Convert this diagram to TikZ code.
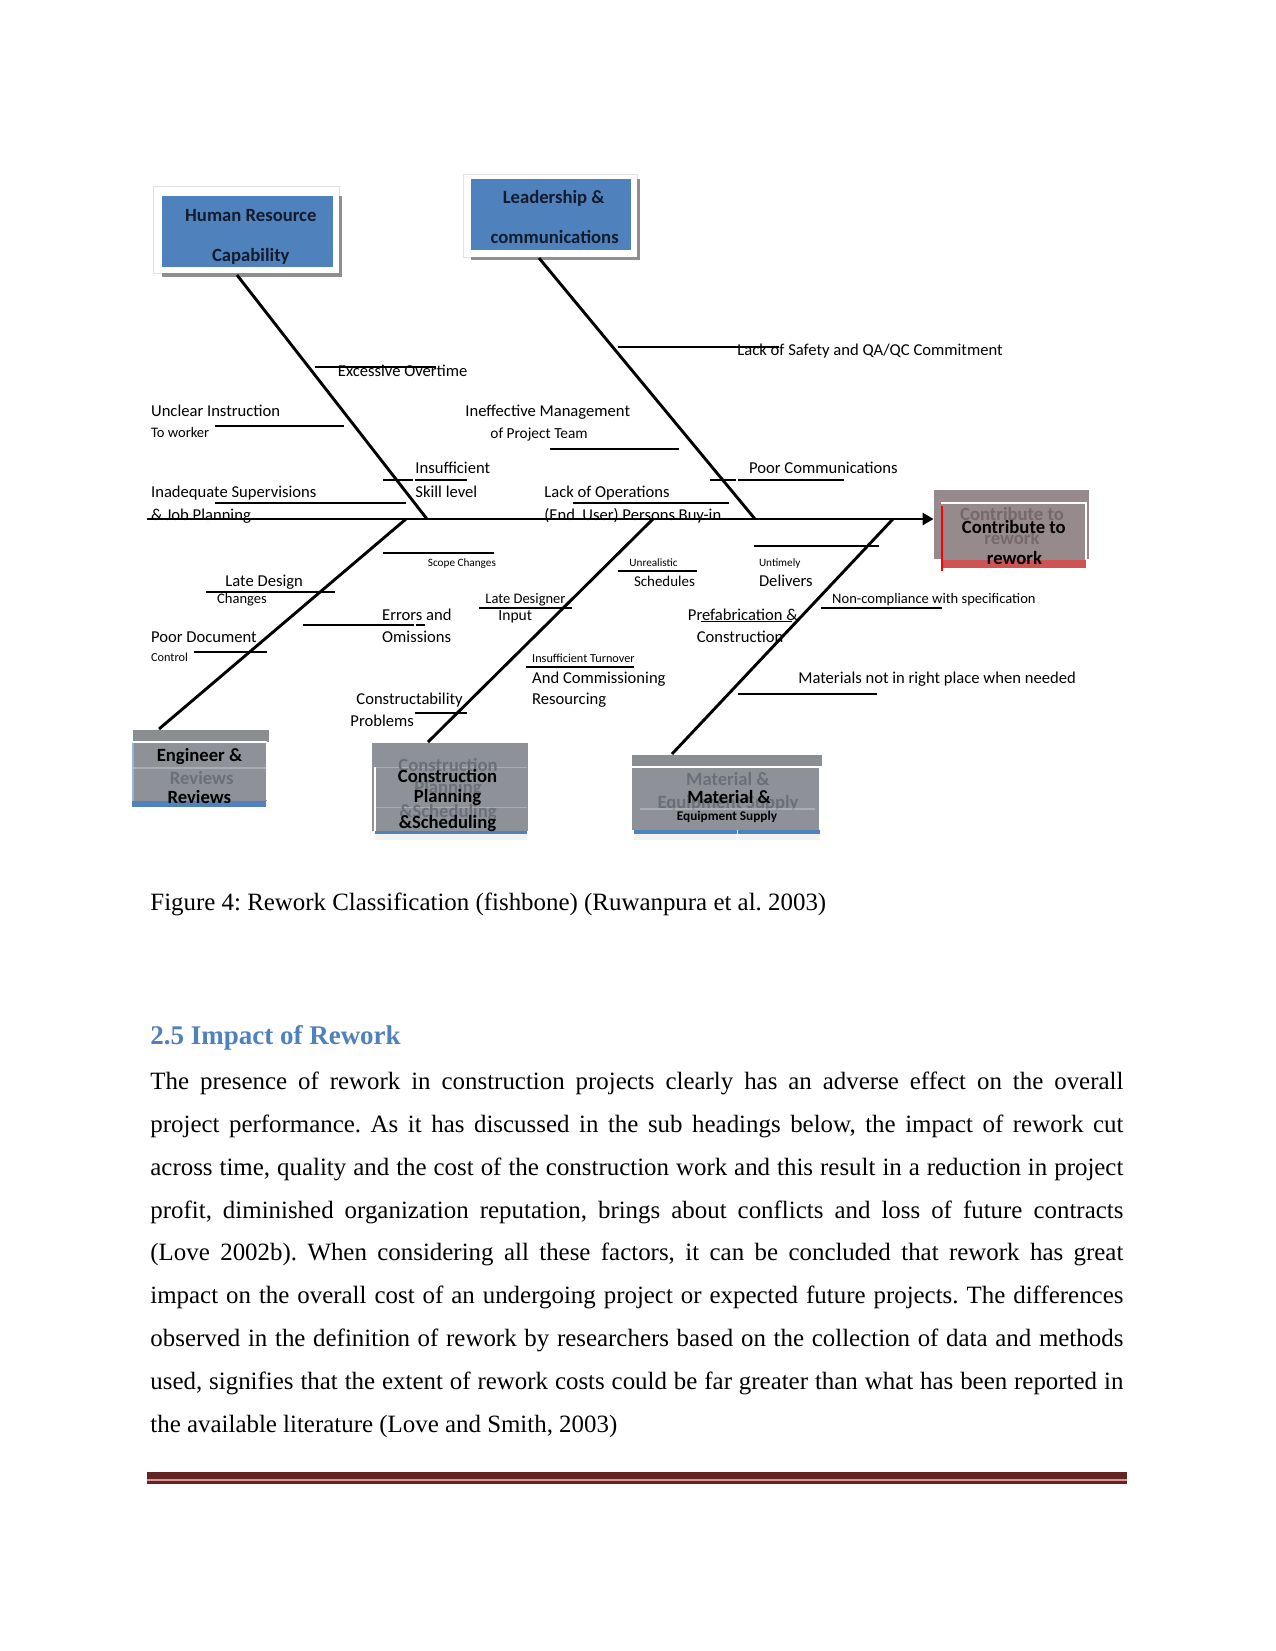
\documentclass[tikz,border=0pt]{standalone}
\usepackage{fontspec}
\setmainfont{Liberation Serif}
\newfontfamily\calibri{Carlito}
\usetikzlibrary{arrows.meta}
\frenchspacing
\definecolor{Accent}{HTML}{4F81BD}
\definecolor{Shade}{HTML}{8F8F8F}
\definecolor{Frame}{HTML}{E2E2E2}
\definecolor{Mauve}{HTML}{968A8C}
\definecolor{MauveInk}{HTML}{75696B}
\definecolor{Rust}{HTML}{CD5452}
\definecolor{Slate}{HTML}{8E9298}
\definecolor{SlateTop}{HTML}{8A8D92}
\definecolor{SlateInk}{HTML}{6B7078}
\definecolor{Navy}{HTML}{141B2D}
\definecolor{Maroon}{HTML}{632523}
\definecolor{Blush}{HTML}{D99694}

\begin{document}
\begin{tikzpicture}[x=0.48bp,y=-0.48bp,
  bone/.style={line width=1.4pt},
  rib/.style={line width=1.1pt},
  lbl/.style={font=\calibri\fontsize{#1}{#1}\selectfont,inner sep=0pt,anchor=base west},
  lbl/.default=8,
  head/.style={font=\calibri\bfseries\fontsize{9}{10}\selectfont,text=Navy,inner sep=0pt,anchor=base},
  ghost/.style={head,text=#1}]
  \fill[white] (0,0) rectangle (1275,1651);
  \useasboundingbox (0,0) rectangle (1275,1651);

  % cause boxes, top row
  \draw[Frame,fill=white] (153,186) rectangle (339,273);
  \fill[Shade] (339,196) rectangle (342,277);
  \fill[Shade] (162,273) rectangle (342,277);
  \fill[Accent] (162,196) rectangle (333,267);
  \node[head] (hrtop) at (250.8,221) {Human Resource};
  \node[head] (hrbot) at (250.8,261) {Capability};

  \draw[Frame,fill=white] (463,174) rectangle (637,257);
  \fill[Shade] (637,179) rectangle (640,260);
  \fill[Shade] (471,257) rectangle (640,260);
  \fill[Accent] (471,179) rectangle (631,250);
  \node[head] (leadtop) at (553.7,203.5) {Leadership \&};
  \node[head] (leadbot) at (554.7,243.5) {communications};

  % effect box
  \node[fill=Mauve,inner sep=0pt,minimum width=74.4bp,minimum height=33.1bp] (effect) at (1011.5,524.5) {};
  \fill[Mauve] (941,503) rectangle (1086,560);
  \draw[white,line width=0.7pt] (941,503) -- (1086,503) -- (1086,560);
  \fill[Rust] (941.7,560) rectangle (1086,568.3);
  \draw[red,line width=0.9pt] (941.7,506) -- (941.7,570.7);
  \node[ghost=MauveInk] (effghosta) at (1012,520.5) {Contribute to};
  \node[ghost=MauveInk] (effghostb) at (1012,544) {rework};
  \node[head,text=black] (efftop) at (1013.8,533) {Contribute to};
  \node[head,text=black] (effbot) at (1014.5,564) {rework};

  % cause boxes, bottom row
  \fill[SlateTop] (133,730) rectangle (269,741.7);
  \fill[Slate] (133,742.7) rectangle (266.7,801);
  \draw[white,line width=0.7pt] (133,742.2) -- (266.7,742.2) -- (266.7,800);
  \draw[Accent!60,line width=0.5pt] (133,742.7) -- (133,801);
  \draw[white,opacity=0.25,line width=0.6pt] (133,768) -- (266,768);
  \fill[Accent] (132.3,801) rectangle (265.7,807.3);
  \node[head,text=black] (engtop) at (199.5,761.5) {Engineer \&};
  \node[ghost=SlateInk] (engghost) at (201.7,784.5) {Reviews};
  \node[head,text=black] (engbot) at (199.3,803) {Reviews};

  \fill[Slate] (371.7,743.3) rectangle (528.3,831);
  \draw[white,line width=0.8pt] (375,766.7) -- (375,831.7);
  \draw[white,opacity=0.25,line width=0.6pt] (375,767.7) -- (526.7,767.7);
  \draw[white,opacity=0.25,line width=0.6pt] (375,807.7) -- (526.7,807.7);
  \fill[Accent] (375,831) rectangle (526.7,834.3);
  \fill[black!5] (375,834.3) rectangle (526.7,840);
  \node[ghost=SlateInk] (cpsghosta) at (448,771) {Construction};
  \node[ghost=SlateInk] (cpsghostb) at (448,793) {Planning};
  \node[ghost=SlateInk] (cpsghostc) at (448,817.5) {\&Scheduling};
  \node[head,text=black] (cpstop) at (447.5,782) {Construction};
  \node[head,text=black] (cpsmid) at (447.5,802) {Planning};
  \node[head,text=black] (cpsbot) at (447.5,828) {\&Scheduling};

  \fill[SlateTop] (632.3,755.3) rectangle (821.7,766.3);
  \fill[Slate] (632.3,767.7) rectangle (820,829.7);
  \draw[white,line width=0.7pt] (632.3,767.5) -- (820,767.5) -- (820,829.7);
  \fill[black!5] (634.3,834) rectangle (820,840);
  \fill[Accent] (634.3,829.7) rectangle (820,834);
  \draw[white,line width=0.6pt] (737.7,829.7) -- (737.7,840);
  \node[ghost=SlateInk] (mesghosta) at (727.9,785) {Material \&};
  \node[ghost=SlateInk] (mesghostb) at (728,808.5) {Equipment Supply};
  \fill[Slate] (662,809.5) rectangle (795,828);
  \draw[white,opacity=0.25,line width=0.6pt] (640,809) -- (815,809);
  \node[head,text=black] (mestop) at (729,803) {Material \&};
  \node[head,text=black,font=\calibri\bfseries\fontsize{6.4}{7}\selectfont] (mesbot) at (727,820) {Equipment Supply};

  % spine and main bones
  \coordinate (tail) at (147,519);
  \draw[bone,-{Triangle[length=5.3pt,width=5.8pt]}] (tail) -- (tail -| effect.west);
  \coordinate (hrfoot) at (237,275);
  \coordinate (hrjoint) at (427,519);
  \coordinate (leadfoot) at (539,258);
  \coordinate (leadjoint) at (755,519);
  \coordinate (engjoint) at (406,519);
  \coordinate (engfoot) at (159,729);
  \coordinate (cpsjoint) at (653,519);
  \coordinate (cpsfoot) at (428,742);
  \coordinate (mesjoint) at (893,519);
  \coordinate (mesfoot) at (672,754);
  \draw[bone] (hrfoot) -- (hrjoint);
  \draw[bone] (leadfoot) -- (leadjoint);
  \draw[bone] (engjoint) -- (engfoot);
  \draw[bone] (cpsjoint) -- (cpsfoot);
  \draw[bone] (mesjoint) -- (mesfoot);

  % sub causes
  \draw[rib] (315,366.7) -- (436,366.7);
  \draw[rib] (215,426) -- (343.6,426);
  \draw[rib] (383,480) -- (413,480) (415,480) -- (467,480);
  \draw[rib] (215,503) -- (406,503);
  \draw[rib] (618,347) -- (778.6,347);
  \draw[rib] (550,449) -- (679,449);
  \draw[rib] (709.7,480) -- (736,480) (738,480) -- (843.7,480);
  \draw[rib] (572.7,503) -- (729,503);
  \draw[rib] (383,552.7) -- (493.6,552.7);
  \draw[rib] (206,591.7) -- (334.6,591.7);
  \draw[rib] (302.5,625) -- (414,625) (415.7,625) -- (424.6,625);
  \draw[rib] (193.6,651.7) -- (266.8,651.7);
  \draw[rib] (479,607.7) -- (572,607.7);
  \draw[rib] (617.5,570.7) -- (697,570.7);
  \draw[rib] (526,666.7) -- (634,666.7);
  \draw[rib] (415,712.7) -- (466.8,712.7);
  \draw[rib] (754,545.7) -- (879,545.7);
  \draw[rib] (821,607.7) -- (941.8,607.7);
  \draw[line width=0.6pt] (700.7,621.7) -- (791.8,621.7);
  \draw[rib] (738,694) -- (876.8,694);

  \node[lbl] (overtime) at (337.5,376) {Excessive Overtime};
  \node[lbl] (unclear) at (150.7,416) {Unclear Instruction};
  \node[lbl=7] (worker) at (150.7,437.5) {To worker};
  \node[lbl] (insuff) at (415,473) {Insufficient};
  \node[lbl] (skill) at (415,497) {Skill level};
  \node[lbl] (superv) at (150.7,497) {Inadequate Supervisions};
  \node[lbl] (jobplan) at (150.7,520) {\& Job Planning};

  \node[lbl] (safety) at (737,355) {Lack of Safety and QA/QC Commitment};
  \node[lbl] (mgmt) at (465,416) {Ineffective Management};
  \node[lbl=7.4] (team) at (490,438) {of Project Team};
  \node[lbl] (comms) at (748.7,473) {Poor Communications};
  \node[lbl] (ops) at (544,497) {Lack of Operations};
  \node[lbl] (buyin) at (544,520) {(End\ \ User) Persons Buy-in};

  \node[lbl=5.4] (scope) at (427.5,566) {Scope Changes};
  \node[lbl] (latedes) at (225,586.7) {Late Design};
  \node[lbl=7] (changes) at (216.8,603) {Changes};
  \node[lbl] (errors) at (381.8,620) {Errors and};
  \node[lbl] (omiss) at (381.8,642.7) {Omissions};
  \node[lbl] (poordoc) at (150.7,642.7) {Poor Document};
  \node[lbl=5.9] (control) at (150.7,661.5) {Control};

  \node[lbl=7] (designer) at (485,603.5) {Late Designer};
  \node[lbl=7.5] (input) at (498,620) {Input};
  \node[lbl=5.4] (unreal) at (629,566) {Unrealistic};
  \node[lbl=7.2] (sched) at (633.6,586.7) {Schedules};
  \node[lbl=5.9] (turnover) at (531.8,662.5) {Insufficient Turnover};
  \node[lbl] (commiss) at (531.8,683) {And Commissioning};
  \node[lbl] (resourc) at (531.8,704) {Resourcing};
  \node[lbl] (constr) at (356,704) {Constructability};
  \node[lbl] (problems) at (350,726) {Problems};

  \node[lbl=5.4] (untimely) at (758.6,566) {Untimely};
  \node[lbl] (delivers) at (758.6,586.7) {Delivers};
  \node[lbl=7] (noncomp) at (831.8,603.5) {Non-compliance with specification};
  \node[lbl] (prefab) at (687.5,620) {Prefabrication \&};
  \node[lbl] (construction) at (696.4,642.7) {Construction};
  \node[lbl] (matplace) at (797.9,683) {Materials not in right place when needed};

  % caption and text
  \node[anchor=base west,inner sep=0pt,font=\fontsize{12}{14}\selectfont] (caption) at (150,910)
    {Figure 4: Rework Classification (fishbone) (Ruwanpura et al. 2003)};
  \node[anchor=base west,inner sep=0pt,font=\bfseries\fontsize{13}{15}\selectfont,text=Accent] (heading) at (150,1044)
    {2.5 Impact of Rework};
  \node[anchor=north west,inner sep=0pt,text width=467bp,align=justify,font=\fontsize{12}{20.6}\selectfont] (body) at (150,1072)
    {\setlength{\parindent}{0pt}The presence of rework in construction projects clearly has an adverse effect on the overall\linebreak
     project performance. As it has discussed in the sub headings below, the impact of rework cut\linebreak
     across time, quality and the cost of the construction work and this result in a reduction in project\linebreak
     profit, diminished organization reputation, brings about conflicts and loss of future contracts\linebreak
     (Love 2002b). When considering all these factors, it can be concluded that rework has great\linebreak
     impact on the overall cost of an undergoing project or expected future projects. The differences\linebreak
     observed in the definition of rework by researchers based on the collection of data and methods\linebreak
     used, signifies that the extent of rework costs could be far greater than what has been reported in\linebreak
     the available literature (Love and Smith, 2003)};

  % footer rule
  \fill[Maroon] (147,1472) rectangle (1127,1478.7);
  \fill[Blush] (147,1479.3) rectangle (1127,1480.7);
  \fill[Maroon] (147,1481) rectangle (1127,1483.5);
\end{tikzpicture}
\end{document}
